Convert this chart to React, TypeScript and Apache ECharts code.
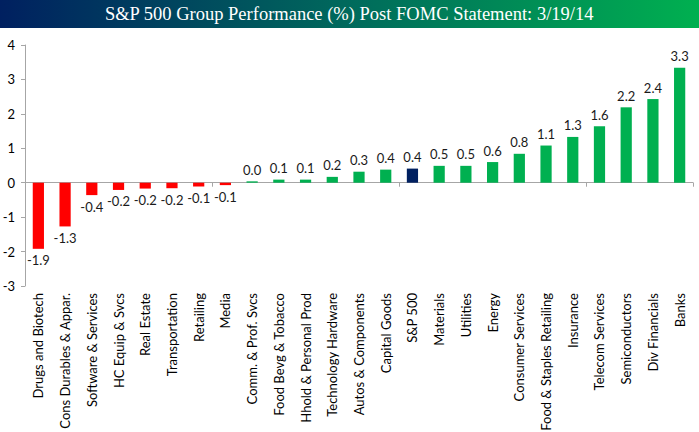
import { useEffect, useRef } from 'react'
import * as echarts from 'echarts'

const categories = [
  'Drugs and Biotech',
  'Cons Durables & Appar.',
  'Software & Services',
  'HC Equip & Svcs',
  'Real Estate',
  'Transportation',
  'Retailing',
  'Media',
  'Comm. & Prof. Svcs',
  'Food Bevg & Tobacco',
  'Hhold & Personal Prod',
  'Technology Hardware',
  'Autos & Components',
  'Capital Goods',
  'S&P 500',
  'Materials',
  'Utilities',
  'Energy',
  'Consumer Services',
  'Food & Staples Retailing',
  'Insurance',
  'Telecom Services',
  'Semiconductors',
  'Div Financials',
  'Banks',
]

const values = [
  -1.92, -1.27, -0.36, -0.21, -0.17, -0.16, -0.11, -0.07, 0.04, 0.09, 0.09, 0.17, 0.32,
  0.38, 0.41, 0.49, 0.49, 0.6, 0.84, 1.08, 1.33, 1.64, 2.19, 2.43, 3.34,
]

const yTicks = [-3, -2, -1, 0, 1, 2, 3, 4]

const benchmark = 'S&P 500'
const titleText = 'S&P 500 Group Performance (%) Post FOMC Statement: 3/19/14'

const GREEN = '#00b050'
const RED = '#ff0000'
const NAVY = '#002060'
const FONT = 'Lato, "Open Sans", sans-serif'

export default function App() {
  const chartRef = useRef<HTMLDivElement | null>(null)

  useEffect(() => {
    document.body.style.margin = '0'
    if (!chartRef.current) {
      return
    }

    const chart = echarts.init(chartRef.current, undefined, { renderer: 'svg' })
    chart.setOption({
      animation: false,
      backgroundColor: '#ffffff',
      graphic: [
        {
          type: 'rect',
          left: 0,
          top: 0,
          shape: { width: 699, height: 28 },
          style: {
            fill: new echarts.graphic.LinearGradient(0, 0, 1, 0, [
              { offset: 0, color: '#002060' },
              { offset: 0.5, color: '#006a5c' },
              { offset: 1, color: '#00b050' },
            ]),
          },
        },
        {
          type: 'text',
          left: 'center',
          top: 4,
          style: {
            text: titleText,
            fill: '#ffffff',
            font: '18.5px "Liberation Serif", "DejaVu Serif", serif',
          },
        },
      ],
      grid: { left: 25, right: 6, top: 45, bottom: 146, outerBoundsMode: 'none' },
      xAxis: [
        {
          type: 'category',
          data: categories,
          position: 'bottom',
          axisLine: { onZero: true, lineStyle: { color: '#a6a6a6', width: 1 } },
          axisTick: { show: true, length: 4, lineStyle: { color: '#a6a6a6' } },
          axisLabel: { show: false },
          splitLine: { show: false },
        },
        {
          type: 'category',
          data: categories,
          position: 'bottom',
          axisLine: { show: false },
          axisTick: { show: false },
          axisLabel: {
            interval: 0,
            rotate: 90,
            margin: 7,
            color: '#000000',
            fontFamily: FONT,
            fontSize: 13,
          },
          splitLine: { show: false },
        },
      ],
      yAxis: {
        type: 'value',
        min: yTicks[0],
        max: yTicks[yTicks.length - 1],
        interval: 1,
        axisLine: { show: true, lineStyle: { color: '#a6a6a6' } },
        axisTick: { show: true, length: 4, lineStyle: { color: '#a6a6a6' } },
        axisLabel: { color: '#000000', fontFamily: FONT, fontSize: 13, margin: 10 },
        splitLine: { show: false },
      },
      series: [
        {
          type: 'bar',
          xAxisIndex: 0,
          barWidth: '42%',
          data: values.map((v, i) => ({
            value: v,
            itemStyle: { color: categories[i] === benchmark ? NAVY : v < 0 ? RED : GREEN },
            label: { position: v < 0 ? 'bottom' : 'top' },
          })),
          label: {
            show: true,
            distance: 5,
            color: '#1a1a1a',
            fontFamily: FONT,
            fontSize: 13,
            formatter: (p: { value: number }) => p.value.toFixed(1),
          },
        },
      ],
    })

    return () => {
      chart.dispose()
    }
  }, [])

  return <div ref={chartRef} style={{ width: 699, height: 432 }} />
}
